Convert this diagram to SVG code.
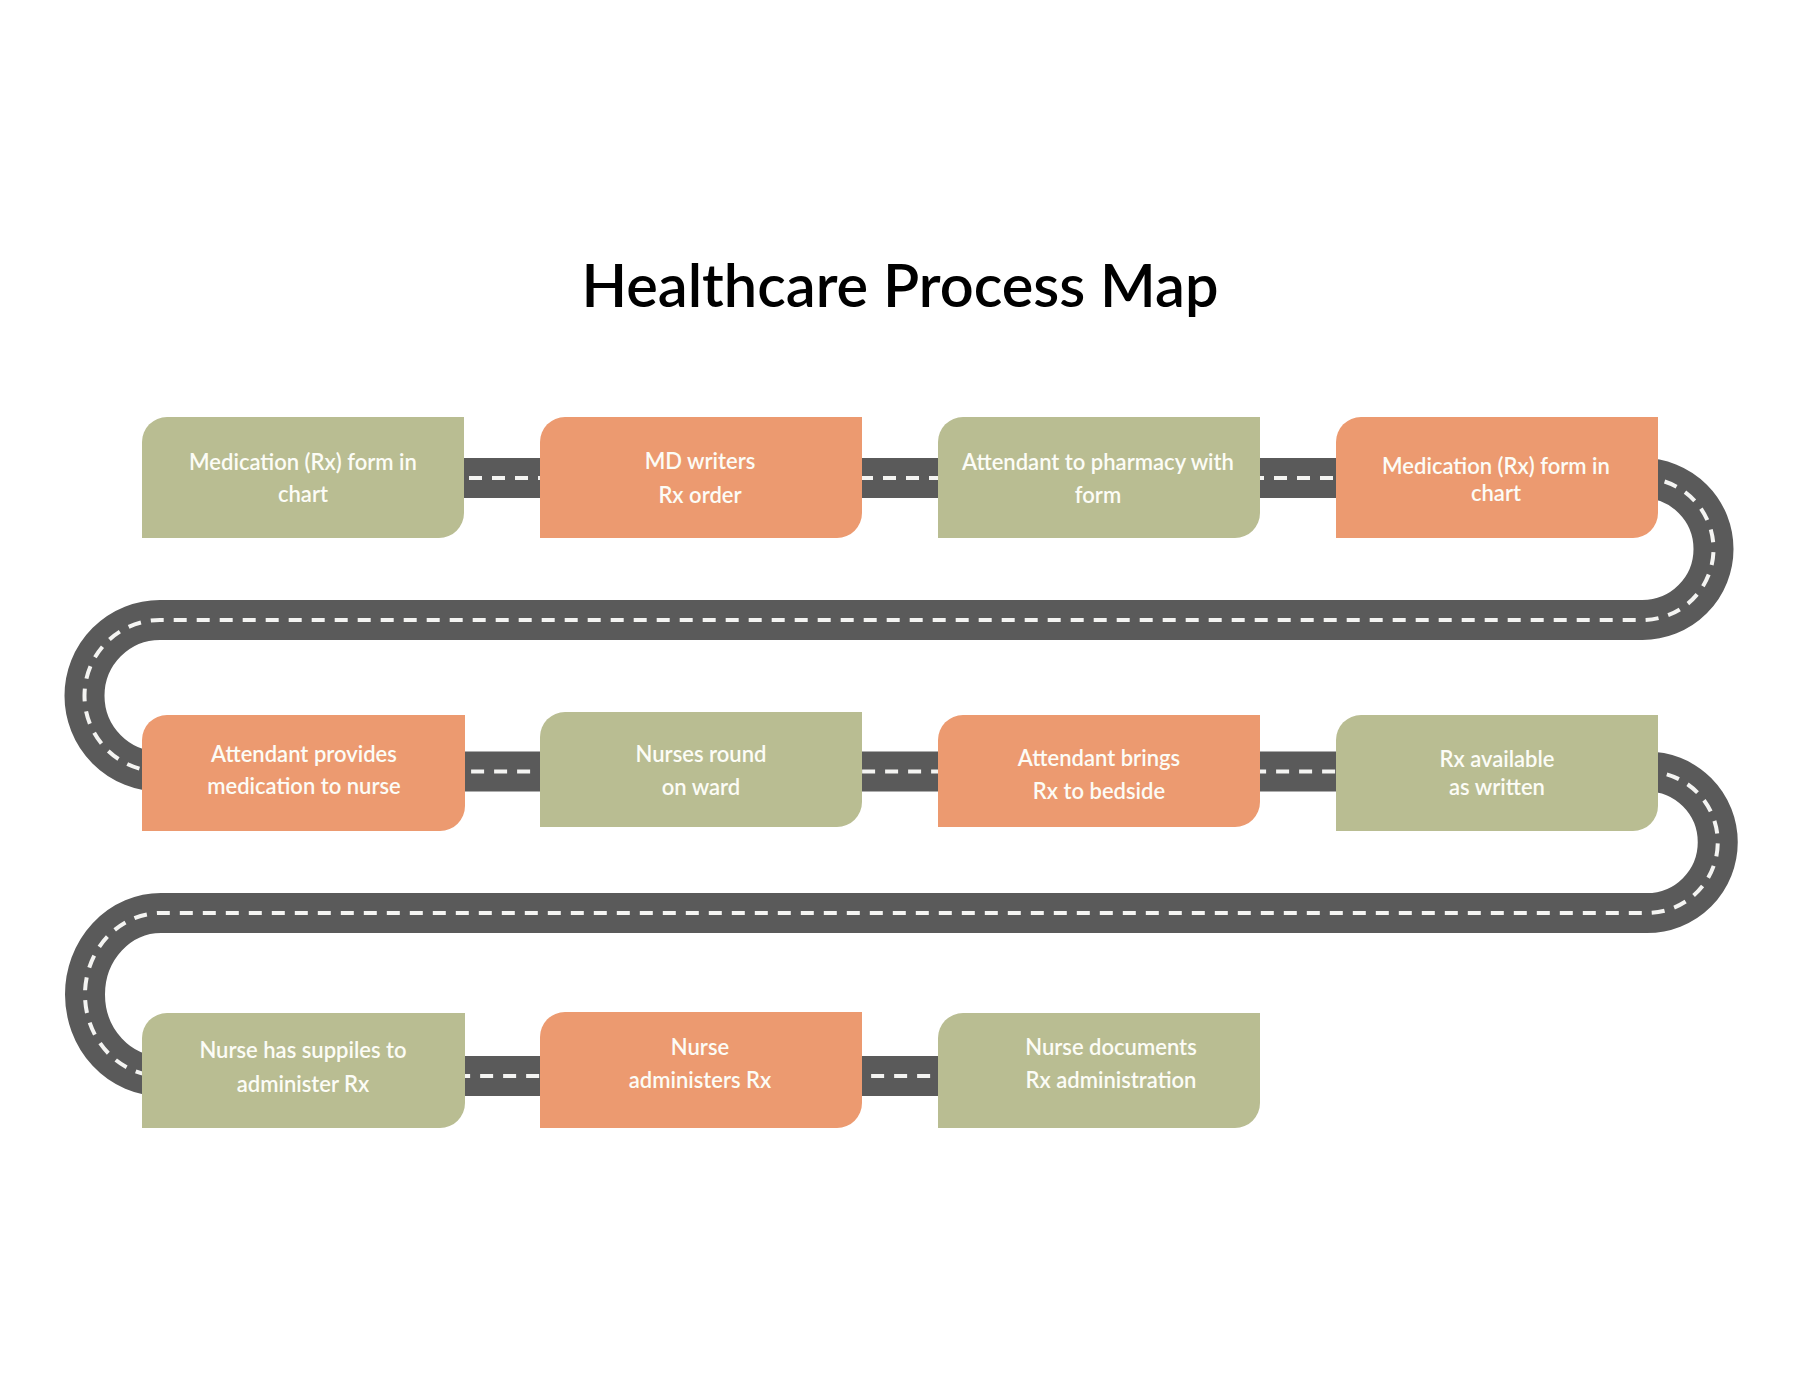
<svg xmlns="http://www.w3.org/2000/svg" width="1800" height="1382" viewBox="0 0 1800 1382">
<style>
.road{fill:none;stroke:#5a5a5a;stroke-width:40}
.lane{fill:none;stroke:#f4f4f2;stroke-width:4;stroke-dasharray:13 10}
.g{fill:#b9bd92}
.o{fill:#ec9a70}
.t{font-family:Lato,"Noto Sans","Liberation Sans",sans-serif;font-size:22px;font-weight:600;fill:#fcfcf6;text-anchor:middle}
.title{font-family:Lato,"Noto Sans","Liberation Sans",sans-serif;font-size:59.5px;font-weight:600;fill:#000;text-anchor:middle}
</style>
<rect width="1800" height="1382" fill="#fff"/>
<text class="title" x="900" y="307">Healthcare Process Map</text>
<g id="connectors">
<path class="road" d="M400 478 H1642.5 A71 71 0 0 1 1642.5 620 H160 A75.5 75.75 0 0 0 160 771.5 H1647 A70.75 70.75 0 0 1 1647 913 H161 A76 81.5 0 0 0 161 1076 H1000"/>
<path class="lane" d="M400 478 H1642.5 A71 71 0 0 1 1642.5 620 H160 A75.5 75.75 0 0 0 160 771.5 H1647 A70.75 70.75 0 0 1 1647 913 H161 A76 81.5 0 0 0 161 1076 H1000"/>
</g>
<g id="n1"><path class="g" d="M167 417 H464 V513 A25 25 0 0 1 439 538 H142 V442 A25 25 0 0 1 167 417 Z"/>
<text class="t" x="303" y="469.5">Medication (Rx) form in</text><text class="t" x="303" y="502">chart</text></g>
<g id="n2"><path class="o" d="M565 417 H862 V513 A25 25 0 0 1 837 538 H540 V442 A25 25 0 0 1 565 417 Z"/>
<text class="t" x="700" y="469">MD writers</text><text class="t" x="700" y="502.5">Rx order</text></g>
<g id="n3"><path class="g" d="M963 417 H1260 V513 A25 25 0 0 1 1235 538 H938 V442 A25 25 0 0 1 963 417 Z"/>
<text class="t" x="1098" y="470">Attendant to pharmacy with</text><text class="t" x="1098" y="503">form</text></g>
<g id="n4"><path class="o" d="M1361 417 H1658 V513 A25 25 0 0 1 1633 538 H1336 V442 A25 25 0 0 1 1361 417 Z"/>
<text class="t" x="1496" y="473.5">Medication (Rx) form in</text><text class="t" x="1496" y="500.5">chart</text></g>
<g id="n5"><path class="o" d="M167 715 H465 V806 A25 25 0 0 1 440 831 H142 V740 A25 25 0 0 1 167 715 Z"/>
<text class="t" x="304" y="761.5">Attendant provides</text><text class="t" x="304" y="793.5">medication to nurse</text></g>
<g id="n6"><path class="g" d="M565 712 H862 V802 A25 25 0 0 1 837 827 H540 V737 A25 25 0 0 1 565 712 Z"/>
<text class="t" x="701" y="761.5">Nurses round</text><text class="t" x="701" y="795">on ward</text></g>
<g id="n7"><path class="o" d="M963 715 H1260 V802 A25 25 0 0 1 1235 827 H938 V740 A25 25 0 0 1 963 715 Z"/>
<text class="t" x="1099" y="766">Attendant brings</text><text class="t" x="1099" y="799">Rx to bedside</text></g>
<g id="n8"><path class="g" d="M1361 715 H1658 V806 A25 25 0 0 1 1633 831 H1336 V740 A25 25 0 0 1 1361 715 Z"/>
<text class="t" x="1497" y="766.5">Rx available</text><text class="t" x="1497" y="795">as written</text></g>
<g id="n9"><path class="g" d="M167 1013 H465 V1103 A25 25 0 0 1 440 1128 H142 V1038 A25 25 0 0 1 167 1013 Z"/>
<text class="t" x="303" y="1058">Nurse has suppiles to</text><text class="t" x="303" y="1091.5">administer Rx</text></g>
<g id="n10"><path class="o" d="M565 1012 H862 V1103 A25 25 0 0 1 837 1128 H540 V1037 A25 25 0 0 1 565 1012 Z"/>
<text class="t" x="700" y="1055">Nurse</text><text class="t" x="700" y="1087.5">administers Rx</text></g>
<g id="n11"><path class="g" d="M963 1013 H1260 V1103 A25 25 0 0 1 1235 1128 H938 V1038 A25 25 0 0 1 963 1013 Z"/>
<text class="t" x="1111" y="1055">Nurse documents</text><text class="t" x="1111" y="1088">Rx administration</text></g>
</svg>
